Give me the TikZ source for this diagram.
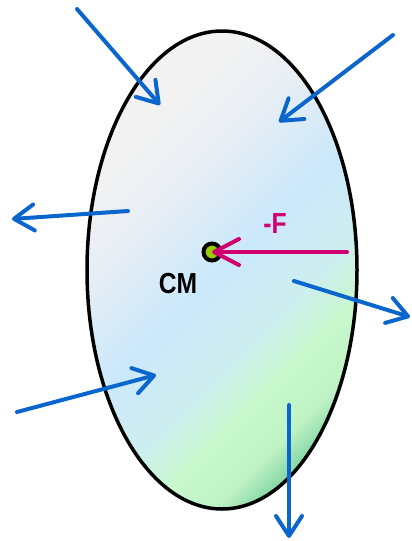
\documentclass[tikz,border=0pt]{standalone}
\usepackage{fontspec}
\setmainfont{Liberation Sans}
\usetikzlibrary{arrows.meta}

\definecolor{forceblue}{RGB}{10,102,204}
\definecolor{forcered}{RGB}{208,0,111}
\definecolor{cmgreen}{RGB}{153,204,0}
\definecolor{bodygray}{RGB}{242,242,243}
\definecolor{bodygray2}{RGB}{232,238,244}
\definecolor{bodyblue}{RGB}{203,232,251}
\definecolor{bodyteal}{RGB}{205,238,240}
\definecolor{bodygreen}{RGB}{200,248,204}
\definecolor{bodygreen2}{RGB}{190,242,196}
\definecolor{bodydark}{RGB}{140,218,170}
\pgfdeclarehorizontalshading{bodyshade}{100bp}{color(0bp)=(bodygray); color(35bp)=(bodygray); color(41bp)=(bodygray2); color(50bp)=(bodyblue); color(57bp)=(bodyteal); color(62bp)=(bodygreen); color(66.5bp)=(bodygreen2); color(69bp)=(bodydark); color(100bp)=(bodydark)}

\tikzset{force/.style={line width=4pt, forceblue, line cap=round, -{Straight Barb[length=20pt,width=26pt,round]}},
  label text/.style={font=\bfseries\fontsize{29}{32}\selectfont, xscale=.85, inner sep=0pt}}

\begin{document}
\begin{tikzpicture}[x=1pt,y=-1pt]
\useasboundingbox (0,0) rectangle (412,541);

\begin{scope}
\clip (222,270) ellipse [x radius=135, y radius=239];
\shade[shading=bodyshade, shading angle=-45] (-28,20) rectangle (472,520);
\end{scope}
\draw[line width=3.5pt] (222,270) ellipse [x radius=135, y radius=239];

\coordinate (inTL) at (77,9);    \coordinate (tipTL) at (160,105);
\coordinate (inTR) at (393,35);  \coordinate (tipTR) at (279,122);
\coordinate (inL) at (128,211);  \coordinate (tipL) at (12,219);
\coordinate (inBL) at (17,412);  \coordinate (tipBL) at (156,375);
\coordinate (inR) at (294,281);  \coordinate (tipR) at (410,317);
\coordinate (inB) at (289,405);  \coordinate (tipB) at (289,538);
\draw[force] (inTL) -- (tipTL);
\draw[force] (inTR) -- (tipTR);
\draw[force] (inL) -- (tipL);
\draw[force] (inBL) -- (tipBL);
\draw[force] (inR) -- (tipR);
\draw[force] (inB) -- (tipB);

\node[circle, draw, line width=4pt, fill=cmgreen, minimum size=17pt, inner sep=0pt] (cm) at (212,252) {};
\coordinate (inF) at (347,252);
\draw[line width=4pt, forcered, line cap=round, -{Straight Barb[length=25pt,width=26pt,round]}] (inF) -- (cm.center);

\node[label text] (cmlabel) at (178,284) {CM};
\node[label text, forcered] (flabel) at (275,224) {-F};
\end{tikzpicture}
\end{document}
